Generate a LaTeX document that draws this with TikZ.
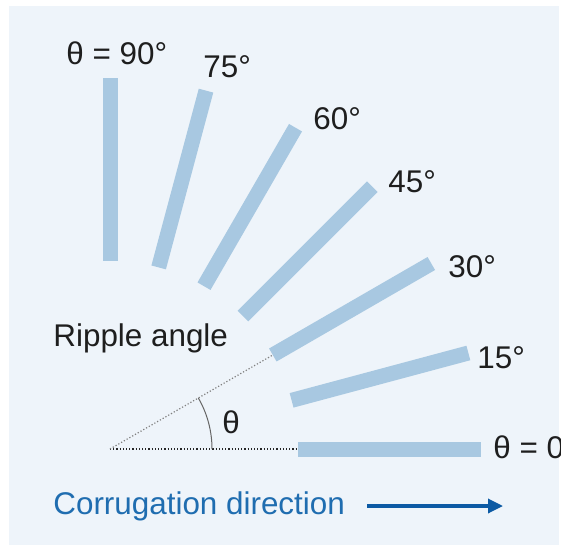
\documentclass[tikz,border=0pt]{standalone}
\usepackage{fontspec}
\setmainfont{Liberation Sans}
\usetikzlibrary{arrows.meta}
\definecolor{bgc}{HTML}{EEF4FA}
\definecolor{rodc}{HTML}{A8C8E1}
\definecolor{txt}{HTML}{1E1E1E}
\definecolor{bluetxt}{HTML}{1F6DB0}
\definecolor{arrowc}{HTML}{0C5AA4}
\begin{document}
\begin{tikzpicture}[x=0.5pt,y=-0.5pt,
  lbl/.style={font=\fontsize{15.7}{18}\selectfont, text=txt, inner sep=0pt, anchor=base west},
  rod/.style={rectangle, fill=rodc, draw=none, minimum width=91.5pt, minimum height=7.5pt, inner sep=0pt},
  guide/.style={densely dotted, line width=0.6pt}]
\useasboundingbox (0,0) rectangle (561,545);
\clip (0,0) rectangle (561,545);
\fill[bgc] (9,6) rectangle (559,545);
\coordinate (O) at (110,449);
\foreach \a in {0,15,30,45,60,75,90} {
  \node[rod, rotate=\a] (rod\a) at ([shift={(O)}]\a:139.75pt) {};
}
\draw[guide, black!85] (O) -- (rod0.west);
\draw[guide, black!50] (O) -- (rod30.west);
\draw[black!60, line width=0.5pt] ([shift={(O)}]0:51pt) arc[start angle=0, end angle=30, radius=51pt];
\node[lbl] (l90) at (66,65) {θ = 90°};
\node[lbl] (l75) at (203,78) {75°};
\node[lbl] (l60) at (313,130) {60°};
\node[lbl] (l45) at (388,192) {45°};
\node[lbl] (l30) at (448,277) {30°};
\node[lbl] (l15) at (477,368) {15°};
\node[lbl] (l0) at (493,458) {θ = 0°};
\node[lbl] (ripple) at (53,346) {Ripple angle};
\node[lbl] (theta) at (222,433) {θ};
\node[lbl, text=bluetxt] (corr) at (53,514) {Corrugation direction};
\coordinate (aS) at (367,506);
\coordinate (aE) at (503,506);
\draw[arrowc, line width=1.65pt, -{Triangle[length=7.5pt,width=7pt]}] (aS) -- (aE);
\end{tikzpicture}
\end{document}
